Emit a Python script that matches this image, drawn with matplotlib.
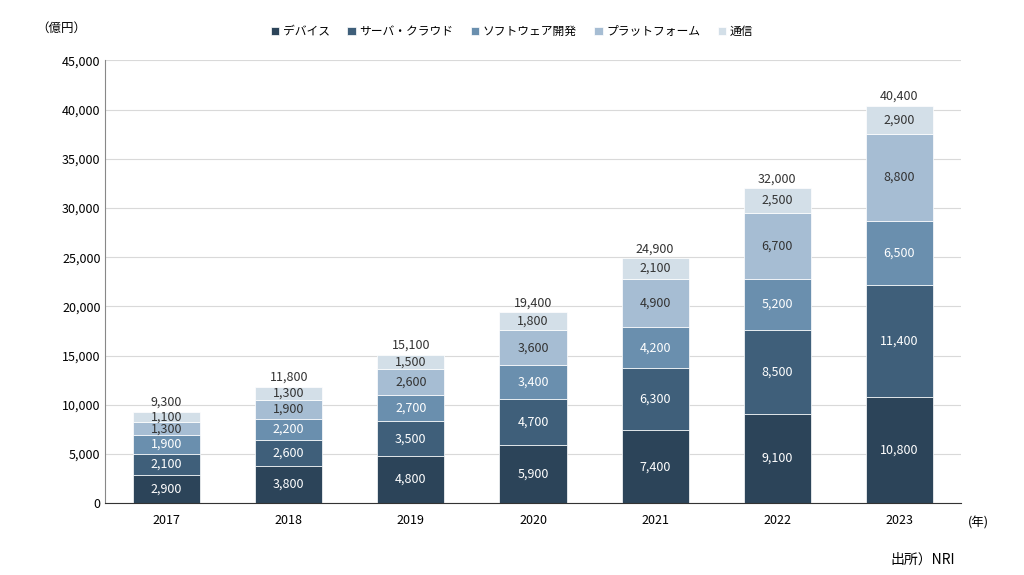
import numpy as np
import matplotlib
matplotlib.use("Agg")
from matplotlib import pyplot as plt

plt.rcParams['font.family'] = ['Noto Sans CJK JP', 'DejaVu Sans']

years = ["2017", "2018", "2019", "2020", "2021", "2022", "2023"]
series = ["デバイス", "サーバ・クラウド", "ソフトウェア開発", "プラットフォーム", "通信"]
device = [2900, 3800, 4800, 5900, 7400, 9100, 10800]
server = [2100, 2600, 3500, 4700, 6300, 8500, 11400]
software = [1900, 2200, 2700, 3400, 4200, 5200, 6500]
platform = [1300, 1900, 2600, 3600, 4900, 6700, 8800]
comm = [1100, 1300, 1500, 1800, 2100, 2500, 2900]
totals = [9300, 11800, 15100, 19400, 24900, 32000, 40400]

colors = ["#2c4459", "#3f5f7a", "#6a8fae", "#a6bdd3", "#d3dfe8"]
text_colors = ["white", "white", "white", "#333333", "#333333"]

fig = plt.figure(figsize=(10.24, 5.75), dpi=100)
ax = fig.add_axes([0.103, 0.125, 0.835, 0.77])
x = np.arange(len(years))
bottom = np.zeros(len(years))
for name, vals, c, tc in zip(series, [device, server, software, platform, comm], colors, text_colors):
    ax.bar(x, vals, 0.55, bottom=bottom, color=c, label=name, edgecolor="white", linewidth=0.5)
    for xi, b, v in zip(x, bottom, vals):
        ax.text(xi, b + v / 2, f"{v:,}", ha="center", va="center", fontsize=9, color=tc)
    bottom += vals
for xi, t in zip(x, totals):
    ax.text(xi, t + 300, f"{t:,}", ha="center", va="bottom", fontsize=9, color="#333333")

ax.set_xlim(-0.5, len(years) - 0.5)
ax.set_ylim(0, 45000)
ax.set_yticks(range(0, 45001, 5000))
ax.set_yticklabels([f"{v:,}" for v in range(0, 45001, 5000)], fontsize=9)
ax.set_xticks(x)
ax.set_xticklabels(years, fontsize=9)
ax.yaxis.grid(True, color="#d9d9d9", linewidth=0.8)
ax.set_axisbelow(True)
for s in ["top", "right"]:
    ax.spines[s].set_visible(False)
ax.spines["left"].set_color("#888888")
ax.spines["bottom"].set_color("#333333")
ax.tick_params(axis="x", length=0, pad=8)
ax.tick_params(axis="y", length=0)

fig.text(0.035, 0.945, "（億円）", fontsize=9)
fig.text(0.945, 0.085, "(年)", fontsize=9)
fig.text(0.87, 0.02, "出所）NRI", fontsize=10)
fig.legend(loc="upper center", bbox_to_anchor=(0.5, 0.975), ncol=5, frameon=False,
           fontsize=8.5, handlelength=0.7, handleheight=0.7, columnspacing=1.5, handletextpad=0.3)

fig.savefig("out.png", dpi=100)
